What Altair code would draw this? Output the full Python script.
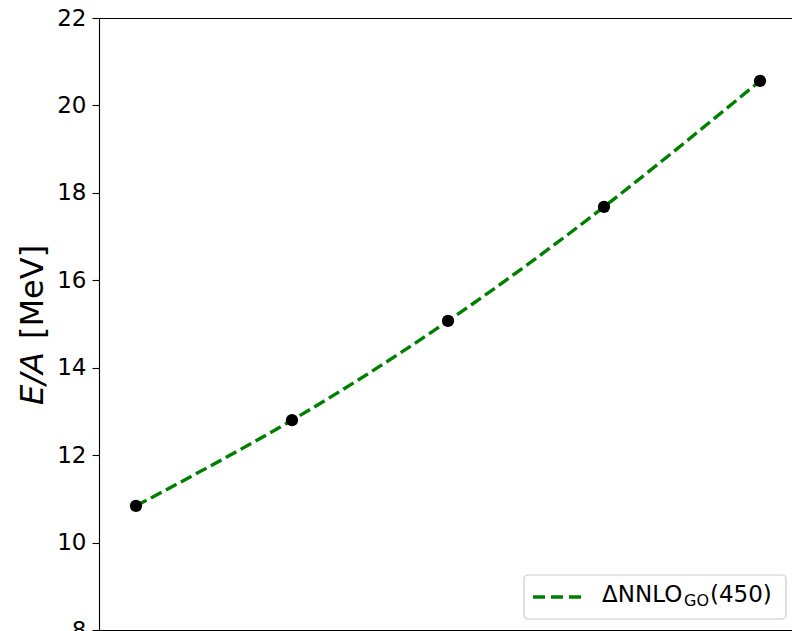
import altair as alt
import pandas as pd

# data
x_index = [0, 1, 2, 3, 4]
energy = [10.84, 12.80, 15.07, 17.68, 20.56]
y_ticks = [8, 10, 12, 14, 16, 18, 20, 22]
legend_main = "ΔNNLO"
legend_sub = "GO"
legend_tail = "(450)"

df = pd.DataFrame({"x": x_index, "y": energy})
one = pd.DataFrame({"k": [0]})

FONT = "DejaVu Sans"
GREEN = "#008000"

xscale = alt.Scale(domain=[-0.237, 4.205], nice=False, zero=False)
yscale = alt.Scale(domain=[8, 22], nice=False, zero=False)

yaxis = alt.Axis(values=y_ticks, grid=False, title=None, tickSize=7,
                 labelPadding=6, labelFontSize=23, labelFont=FONT,
                 labelColor="black", tickColor="black", domainColor="black",
                 tickWidth=1.1, domainWidth=1.1, domain=True, ticks=True, labels=True)

line = alt.Chart(df).mark_line(
    color=GREEN, strokeDash=[12, 5], strokeWidth=3.4, interpolate="natural"
).encode(
    x=alt.X("x:Q", scale=xscale,
            axis=alt.Axis(orient="bottom", labels=False, ticks=False, grid=False,
                          title=None, domain=True)),
    y=alt.Y("y:Q", scale=yscale, axis=yaxis),
)

points = alt.Chart(df).mark_circle(size=150, color="black", opacity=1).encode(
    x=alt.X("x:Q", scale=xscale,
            axis=alt.Axis(orient="top", labels=False, ticks=False, grid=False,
                          title=None, domain=True)),
    y=alt.Y("y:Q", scale=yscale, axis=yaxis),
)

ytitle_a = alt.Chart(one).mark_text(
    text="E/A", angle=270, align="left", baseline="alphabetic",
    font=FONT, fontSize=32, fontStyle="italic", color="black"
).encode(x=alt.value(-56), y=alt.value(387))

ytitle_b = alt.Chart(one).mark_text(
    text="[MeV]", angle=270, align="left", baseline="alphabetic",
    font=FONT, fontSize=32, color="black"
).encode(x=alt.value(-56), y=alt.value(321))

leg_box = alt.Chart(one).mark_rect(
    fill="white", fillOpacity=0.9, stroke="#cccccc", strokeWidth=1.2, cornerRadius=4
).encode(x=alt.value(425), x2=alt.value(687), y=alt.value(557), y2=alt.value(601))

leg_line = alt.Chart(one).mark_rule(
    color=GREEN, strokeDash=[12, 6], strokeWidth=3.4
).encode(x=alt.value(434), x2=alt.value(484), y=alt.value(579))

leg_t1 = alt.Chart(one).mark_text(
    text=legend_main, align="left", baseline="alphabetic", font=FONT, fontSize=23, color="black"
).encode(x=alt.value(503), y=alt.value(584))

leg_t2 = alt.Chart(one).mark_text(
    text=legend_sub, align="left", baseline="alphabetic", font=FONT, fontSize=16, color="black"
).encode(x=alt.value(585), y=alt.value(588))

leg_t3 = alt.Chart(one).mark_text(
    text=legend_tail, align="left", baseline="alphabetic", font=FONT, fontSize=23, color="black"
).encode(x=alt.value(611), y=alt.value(584))

chart = alt.layer(
    line, points, ytitle_a, ytitle_b, leg_box, leg_line, leg_t1, leg_t2, leg_t3
).resolve_axis(x="independent", y="shared").properties(
    width=693, height=612,
    autosize=alt.AutoSizeParams(type="none"),
    padding={"left": 99, "top": 18, "right": 0, "bottom": 1},
    background="white",
).configure_view(stroke=None).configure_axis(
    domainColor="black", domainWidth=1.1
)

chart.save("out.html", embed_options={"renderer": "svg", "actions": False})
